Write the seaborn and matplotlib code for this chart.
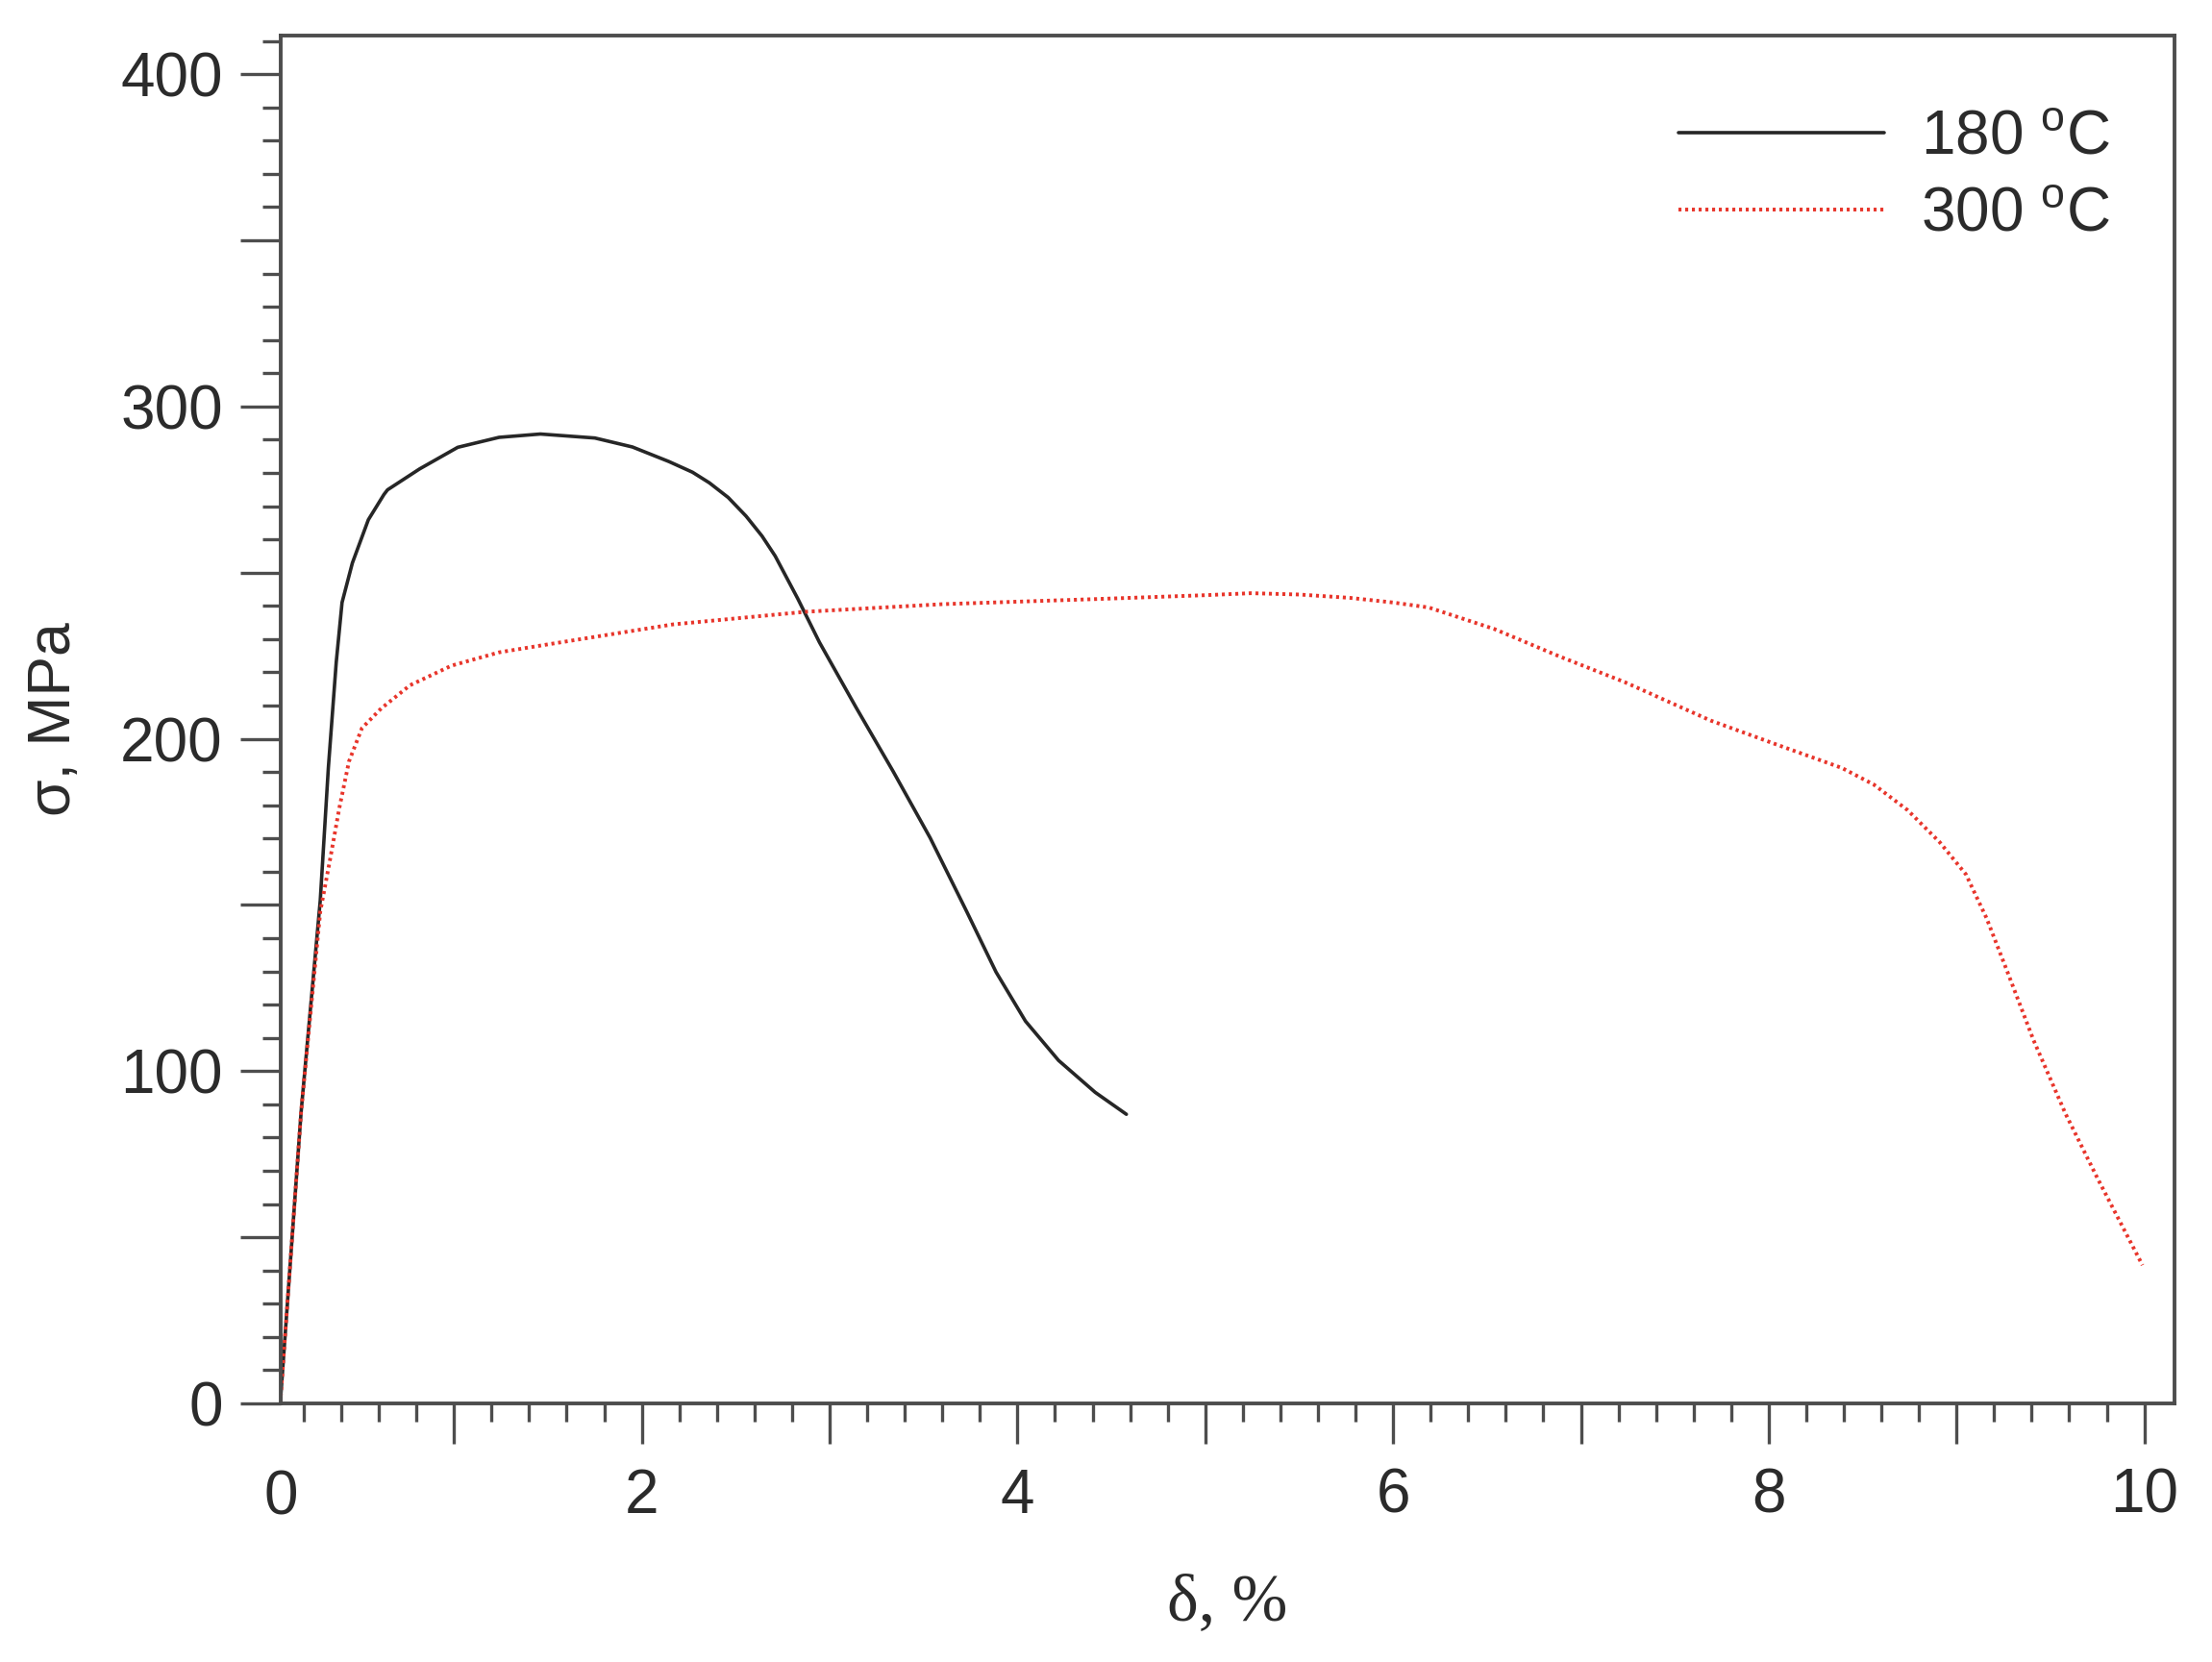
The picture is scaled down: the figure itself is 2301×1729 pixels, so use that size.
import numpy as np
import pandas as pd
import matplotlib
matplotlib.use("Agg")
import matplotlib.pyplot as plt
import matplotlib.transforms as mtransforms
from matplotlib.ticker import MultipleLocator, FuncFormatter
import seaborn as sns

# strain (%) and stress (MPa)
strain_180 = [0.075, 0.186, 0.288, 0.331, 0.373, 0.404, 0.459, 0.544, 0.627, 0.646,
              0.817, 1.02, 1.24, 1.46, 1.75, 1.95, 2.145, 2.27, 2.36, 2.46, 2.555, 2.64,
              2.71, 2.83, 2.946, 3.142, 3.338, 3.535, 3.729, 3.886, 4.043, 4.219,
              4.414, 4.58]
stress_180 = [0, 87.7, 151.4, 191.2, 223, 241, 252.9, 265.9, 273.5, 274.9,
              281.2, 287.7, 290.7, 291.7, 290.5, 287.8, 283.4, 280.2, 277.0, 272.6, 267.0, 261.0,
              255, 242.2, 229.0, 209.3, 190.2, 170.2, 148.1, 129.8, 115, 103.2,
              93.6, 87]

strain_300 = [0.075, 0.186, 0.288, 0.339, 0.39, 0.441, 0.51, 0.612, 0.766, 0.987,
              1.24, 1.50, 2.164, 2.87, 3.6, 4.4, 5.0, 5.245, 5.5, 5.77, 6.0, 6.19, 6.54,
              6.885, 7.235, 7.69, 8.04, 8.39, 8.56, 8.74, 8.91, 9.05, 9.16, 9.27, 9.41,
              9.58, 9.75, 9.99]
stress_300 = [0, 87.7, 148, 163.3, 179.3, 193.2, 203.2, 209.1, 216.1, 222,
              226, 228.4, 234.4, 238.2, 240.5, 242, 243.2, 243.8, 243.4, 242.4, 241.0, 239.5, 233,
              224.8, 217, 205.5, 198.3, 191.2, 186.2, 178.5, 168.9, 159.2, 146, 130, 109.3,
              87.2, 67.8, 41.6]

labels = ["180 $^{o}$C", "300 $^{o}$C"]

sns.set_style("ticks")
plt.rcParams["font.family"] = ["Liberation Sans", "DejaVu Sans"]
plt.rcParams["mathtext.default"] = "regular"

txt = "#2b2b2b"
axc = "#4d4d4d"

fig = plt.figure(figsize=(23.01, 17.29), dpi=100)
ax = fig.add_axes([0.1267, 0.1556, 0.983 - 0.1267, 0.9786 - 0.1556])

df180 = pd.DataFrame({"strain": strain_180, "stress": stress_180})
df300 = pd.DataFrame({"strain": strain_300, "stress": stress_300})

sns.lineplot(data=df180, x="strain", y="stress", sort=False, estimator=None,
             ax=ax, color="#262626", linewidth=2.6, label=labels[0])
sns.lineplot(data=df300, x="strain", y="stress", sort=False, estimator=None,
             ax=ax, color="#e8352b", linewidth=2.8, linestyle=(0, (0.8, 1.0)),
             label=labels[1])

ax.set_xlim(0.075, 10.16)
ax.set_ylim(0, 411.6)

ax.xaxis.set_major_locator(MultipleLocator(1))
ax.xaxis.set_minor_locator(MultipleLocator(0.2))
ax.yaxis.set_major_locator(MultipleLocator(50))
ax.yaxis.set_minor_locator(MultipleLocator(10))
ax.xaxis.set_major_formatter(FuncFormatter(lambda v, p: f"{v:.0f}" if round(v) % 2 == 0 else ""))
ax.yaxis.set_major_formatter(FuncFormatter(lambda v, p: f"{v:.0f}" if round(v) % 100 == 0 else ""))

ax.tick_params(axis="both", which="major", direction="out", length=30, width=2.4,
               color=axc, labelcolor=txt, labelsize=46)
ax.tick_params(axis="both", which="minor", direction="out", length=14, width=2.4, color=axc)
ax.tick_params(axis="x", which="major", pad=18)
ax.tick_params(axis="y", which="major", pad=13)

for s in ax.spines.values():
    s.set_visible(True)
    s.set_color(axc)
    s.set_linewidth(2.8)

# the "0" label sits at the left edge, where no tick is drawn
trans = mtransforms.blended_transform_factory(ax.transData, ax.transAxes)
ax.text(0.08, -0.0485, "0", transform=trans, ha="center", va="top",
        fontsize=46, color=txt)

ax.set_ylabel("σ, MPa", fontsize=45, color=txt, labelpad=28)
ax.set_xlabel("δ, %", fontsize=50, color=txt, family=["Liberation Serif"], labelpad=36)

leg = ax.legend(loc="upper left", bbox_to_anchor=(0.738, 0.946), frameon=False,
                fontsize=46, handlelength=3.35, handletextpad=0.6, labelspacing=0.3,
                borderpad=0, borderaxespad=0)
for t in leg.get_texts():
    t.set_color(txt)

fig.savefig("out.png", dpi=100, facecolor="white")
